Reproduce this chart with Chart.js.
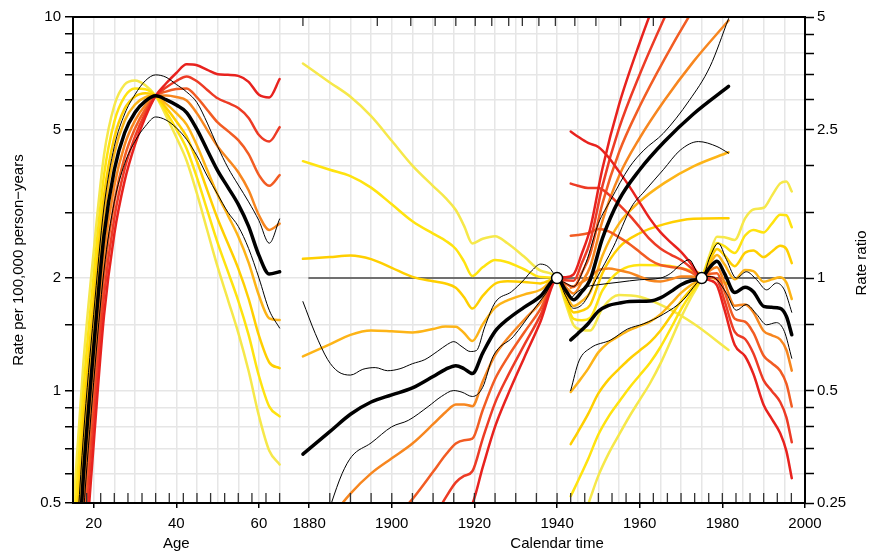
<!DOCTYPE html>
<html>
<head>
<meta charset="utf-8">
<script src="https://cdn.jsdelivr.net/npm/chart.js@4.4.1/dist/chart.umd.min.js"></script>
<style>
  html, body { margin: 0; padding: 0; background: #fff; }
  #wrap { width: 871px; height: 555px; }
</style>
</head>
<body>
<div id="wrap"><canvas id="grafico" width="871" height="555"></canvas></div>
<script>
// age part of the x axis sits left of the calendar part
const AGE_OFFSET = 1807.86;

// ---- age effects (rate per 100,000) ----
const ages = [15, 17.5, 20, 22.5, 25, 27.5, 30, 32.5, 35, 37.5, 40, 42.5, 45, 47.5, 50, 52.5, 55, 57.5, 60, 62.5, 65];
const ageMid = [0.21, 0.59, 1.30, 2.6, 3.9, 4.9, 5.55, 5.95, 6.15, 6.01, 5.81, 5.55, 5.0, 4.4, 3.88, 3.5, 3.15, 2.75, 2.3, 2.05, 2.08];
const ageHi = [0.28, 0.75, 1.6, 3.1, 4.5, 5.5, 6.2, 6.75, 7.0, 6.9, 6.6, 6.3, 5.9, 5.2, 4.5, 3.95, 3.55, 3.2, 2.85, 2.48, 2.88];
const ageLo = [0.16, 0.46, 1.05, 2.1, 3.2, 4.05, 4.65, 5.1, 5.4, 5.3, 5.05, 4.7, 4.25, 3.75, 3.35, 3.0, 2.75, 2.4, 2.0, 1.64, 1.47];
const ageUp4 = [0.095, 0.295, 0.718, 1.585, 2.625, 3.641, 4.553, 5.389, 6.15, 6.636, 7.082, 7.47, 7.43, 7.219, 7.028, 7.0, 6.955, 6.706, 6.19, 6.093, 6.824];
const ageUp3 = [0.116, 0.351, 0.833, 1.794, 2.898, 3.921, 4.784, 5.524, 6.15, 6.473, 6.74, 6.935, 6.73, 6.378, 6.058, 5.886, 5.706, 5.366, 4.833, 4.641, 5.071];
const ageUp2 = [0.141, 0.417, 0.966, 2.03, 3.199, 4.224, 5.027, 5.662, 6.15, 6.315, 6.415, 6.439, 6.095, 5.636, 5.222, 4.95, 4.681, 4.294, 3.773, 3.534, 3.773];
const ageUp1 = [0.172, 0.496, 1.121, 2.297, 3.532, 4.549, 5.282, 5.804, 6.15, 6.161, 6.105, 5.978, 5.521, 4.98, 4.501, 4.162, 3.84, 3.436, 2.946, 2.692, 2.799];
const ageDn1 = [0.256, 0.702, 1.508, 2.943, 4.306, 5.278, 5.831, 6.099, 6.15, 5.863, 5.53, 5.153, 4.529, 3.888, 3.345, 2.943, 2.584, 2.201, 1.796, 1.561, 1.545];
const ageDn2 = [0.312, 0.834, 1.75, 3.33, 4.754, 5.684, 6.128, 6.252, 6.15, 5.719, 5.262, 4.784, 4.102, 3.435, 2.883, 2.475, 2.12, 1.761, 1.402, 1.189, 1.148];
const ageDn3 = [0.38, 0.992, 2.03, 3.769, 5.249, 6.123, 6.439, 6.409, 6.15, 5.58, 5.008, 4.441, 3.715, 3.035, 2.485, 2.081, 1.739, 1.409, 1.094, 0.906, 0.853];
const ageDn4 = [0.464, 1.18, 2.355, 4.266, 5.795, 6.595, 6.765, 6.569, 6.15, 5.443, 4.766, 4.124, 3.365, 2.682, 2.142, 1.75, 1.427, 1.128, 0.855, 0.69, 0.634];

// ---- cohort effects (rate ratio, ref 1940) ----
const cohorts = [1878.5, 1885, 1890, 1895, 1900, 1905, 1910, 1913, 1915.5, 1917.5, 1919.5, 1922, 1925, 1928, 1932, 1936, 1940, 1942, 1944, 1946, 1948, 1951, 1955, 1960, 1966, 1973, 1981.5];
const cohMid = [0.338, 0.388, 0.432, 0.466, 0.487, 0.508, 0.545, 0.57, 0.583, 0.572, 0.555, 0.63, 0.72, 0.775, 0.835, 0.895, 1, 0.93, 0.875, 0.92, 0.99, 1.28, 1.62, 1.95, 2.32, 2.75, 3.26];
const cohUp4 = [0.0304, 0.0451, 0.061, 0.0801, 0.1017, 0.1291, 0.1684, 0.1981, 0.2234, 0.2371, 0.2488, 0.3114, 0.4002, 0.4845, 0.6105, 0.7653, 1, 1.0057, 1.0233, 1.1635, 1.354, 1.9689, 2.9142, 4.2662, 6.419, 10.008, 16.55];
const cohUp3 = [0.0556, 0.0772, 0.0995, 0.1243, 0.1505, 0.1818, 0.2259, 0.258, 0.284, 0.2955, 0.304, 0.3714, 0.4635, 0.5449, 0.6602, 0.7958, 1, 0.9863, 0.984, 1.0972, 1.2521, 1.7678, 2.5163, 3.5079, 4.977, 7.245, 11.02];
const cohUp2 = [0.1014, 0.1322, 0.1624, 0.1931, 0.2226, 0.2561, 0.303, 0.336, 0.3609, 0.3682, 0.3716, 0.4429, 0.5368, 0.6128, 0.714, 0.8276, 1, 0.9671, 0.9462, 1.0346, 1.1578, 1.5871, 2.1729, 2.8842, 3.859, 5.246, 7.345];
const cohUp1 = [0.185, 0.2265, 0.2648, 0.3, 0.3293, 0.3607, 0.4063, 0.4376, 0.4587, 0.459, 0.4541, 0.5283, 0.6217, 0.6891, 0.7722, 0.8607, 1, 0.9484, 0.9099, 0.9757, 1.0706, 1.4253, 1.8763, 2.3716, 2.992, 3.798, 4.893];
const cohDn1 = [0.617, 0.6646, 0.7047, 0.7238, 0.7203, 0.7155, 0.731, 0.7424, 0.7409, 0.7129, 0.6783, 0.7513, 0.8339, 0.8716, 0.903, 0.9307, 1, 0.9119, 0.8414, 0.8675, 0.9155, 1.1495, 1.3987, 1.6034, 1.7989, 1.9912, 2.1719];
const cohDn2 = [1.126, 1.1385, 1.1494, 1.1244, 1.0655, 1.0077, 0.9804, 0.9669, 0.9417, 0.8885, 0.829, 0.8961, 0.9657, 0.9802, 0.9765, 0.9679, 1, 0.8943, 0.8091, 0.8181, 0.8465, 1.0323, 1.2078, 1.3184, 1.3947, 1.4415, 1.447];
const cohDn3 = [2.056, 1.95, 1.8749, 1.7464, 1.5759, 1.4194, 1.315, 1.2593, 1.1968, 1.1074, 1.0132, 1.0687, 1.1184, 1.1023, 1.056, 1.0065, 1, 0.877, 0.7781, 0.7714, 0.7828, 0.9268, 1.0429, 1.084, 1.0814, 1.0438, 0.964];
const cohDn4 = [3.753, 3.341, 3.0583, 2.7126, 2.3309, 1.9992, 1.7636, 1.6401, 1.5212, 1.3801, 1.2383, 1.2745, 1.2952, 1.2397, 1.142, 1.0467, 1, 0.86, 0.7482, 0.7274, 0.7238, 0.8321, 0.9006, 0.8913, 0.8385, 0.7557, 0.6422];
const cohHiYears = [1878.5, 1881.5, 1884.5, 1887, 1890, 1893, 1896, 1899, 1902, 1905, 1908, 1911, 1913.5, 1915, 1917, 1919, 1920.5, 1922.5, 1925, 1929, 1932, 1934, 1936, 1938, 1940, 1942, 1944, 1947, 1950, 1953, 1957.5, 1961, 1965.7, 1972, 1977, 1981.5];
const cohHi = [0.865, 0.71, 0.605, 0.562, 0.55, 0.57, 0.576, 0.565, 0.572, 0.59, 0.605, 0.636, 0.665, 0.676, 0.655, 0.636, 0.64, 0.74, 0.86, 0.92, 0.99, 1.05, 1.09, 1.07, 1.0, 0.97, 0.95, 1.1, 1.4, 1.62, 1.98, 2.2, 2.44, 2.99, 3.68, 4.95];
const cohLoYears = [1878.5, 1882, 1885.4, 1888, 1890.3, 1895, 1900, 1904, 1908.8, 1912, 1915, 1917, 1919.5, 1922, 1924.5, 1929.4, 1934.2, 1937, 1940, 1942, 1944, 1946.5, 1949.4, 1953.6, 1958, 1961, 1965.7, 1969.8, 1974.2, 1978.7, 1981.5];
const cohLo = [0.14, 0.19, 0.25, 0.3, 0.333, 0.362, 0.4, 0.416, 0.453, 0.482, 0.5, 0.495, 0.482, 0.51, 0.617, 0.697, 0.82, 0.9, 1.0, 0.9, 0.83, 0.86, 0.99, 1.21, 1.55, 1.7, 1.95, 2.2, 2.32, 2.25, 2.16];

// ---- period effects (rate ratio, ref 1975) ----
const periods = [1943.3, 1945, 1947.5, 1950, 1952.5, 1955, 1957.5, 1960, 1962.5, 1965, 1967.5, 1970, 1972.5, 1975, 1977, 1978.7, 1980.5, 1983, 1985.5, 1987.5, 1990, 1992, 1994, 1995.5, 1996.8];
const perMid = [0.683, 0.71, 0.755, 0.815, 0.845, 0.857, 0.866, 0.867, 0.868, 0.885, 0.92, 0.96, 0.985, 1, 1.07, 1.11, 1.03, 0.915, 0.945, 0.92, 0.84, 0.835, 0.83, 0.79, 0.705];
const perUp4 = [2.468, 2.3948, 2.3012, 2.2447, 2.1031, 1.9275, 1.7601, 1.5922, 1.4405, 1.3272, 1.2468, 1.1756, 1.09, 1, 0.9865, 0.9555, 0.8242, 0.6617, 0.6178, 0.5543, 0.4574, 0.4193, 0.3843, 0.3442, 0.2914];
const perUp3 = [1.79, 1.7671, 1.7416, 1.7425, 1.6744, 1.5739, 1.4741, 1.3678, 1.2692, 1.1994, 1.1555, 1.1175, 1.0628, 1, 1.0069, 0.992, 0.8714, 0.7175, 0.687, 0.6292, 0.5325, 0.4981, 0.4659, 0.4237, 0.3635];
const perUp2 = [1.2983, 1.3039, 1.3181, 1.3526, 1.3331, 1.2852, 1.2346, 1.175, 1.1182, 1.0838, 1.071, 1.0623, 1.0362, 1, 1.0275, 1.0299, 0.9214, 0.7781, 0.7641, 0.7142, 0.6198, 0.5917, 0.5648, 0.5215, 0.4533];
const perUp1 = [0.9417, 0.9622, 0.9976, 1.0499, 1.0613, 1.0495, 1.034, 1.0093, 0.9852, 0.9793, 0.9926, 1.0099, 1.0103, 1, 1.0485, 1.0692, 0.9742, 0.8438, 0.8497, 0.8106, 0.7216, 0.7029, 0.6848, 0.6418, 0.5653];
const perDn1 = [0.4954, 0.5239, 0.5714, 0.6327, 0.6728, 0.6998, 0.7253, 0.7448, 0.7648, 0.7997, 0.8527, 0.9125, 0.9603, 1, 1.0919, 1.1524, 1.089, 0.9922, 1.0509, 1.0442, 0.9778, 0.992, 1.006, 0.9724, 0.8792];
const perDn2 = [0.3593, 0.3866, 0.4325, 0.4911, 0.5356, 0.5714, 0.6075, 0.6398, 0.6738, 0.7227, 0.7903, 0.8675, 0.9363, 1, 1.1143, 1.1964, 1.1514, 1.076, 1.1688, 1.1851, 1.1384, 1.1784, 1.2198, 1.1968, 1.0965];
const perDn3 = [0.2606, 0.2853, 0.3273, 0.3812, 0.4264, 0.4666, 0.5088, 0.5496, 0.5936, 0.653, 0.7325, 0.8247, 0.9129, 1, 1.1371, 1.2421, 1.2175, 1.1668, 1.2998, 1.3452, 1.3252, 1.3997, 1.4787, 1.473, 1.3675];
const perDn4 = [0.189, 0.2105, 0.2477, 0.2959, 0.3395, 0.381, 0.4261, 0.4721, 0.523, 0.5901, 0.6789, 0.7839, 0.8901, 1, 1.1605, 1.2895, 1.2872, 1.2653, 1.4456, 1.5268, 1.5427, 1.663, 1.7926, 1.8131, 1.7055];
const perHiYears = [1943.3, 1945, 1947.5, 1950, 1955, 1960, 1965, 1967.5, 1970, 1972, 1973.8, 1975, 1977, 1979, 1981, 1983.4, 1985.8, 1988.3, 1990.7, 1993.1, 1995, 1996.8];
const perHi = [0.88, 0.92, 0.95, 0.96, 0.975, 0.99, 1.0, 1.03, 1.09, 1.12, 1.04, 1.0, 1.14, 1.24, 1.12, 1.0, 1.04, 0.99, 0.93, 0.97, 0.93, 0.81];
const perLoYears = [1943.3, 1945.3, 1948.1, 1953, 1957, 1961, 1965.7, 1970.6, 1973.8, 1975, 1977, 1978.7, 1981, 1983.4, 1985.8, 1988.3, 1990.7, 1993.1, 1995, 1996.8];
const perLo = [0.5, 0.6, 0.65, 0.683, 0.73, 0.755, 0.8, 0.875, 0.97, 1.0, 1.01, 0.99, 0.91, 0.82, 0.85, 0.8, 0.75, 0.76, 0.72, 0.61];

// reference points (cohort 1940, period 1975)
const refYears = [1940, 1975];

// axes
const rateTicks = [0.5, 0.6, 0.7, 0.8, 0.9, 1, 1.5, 2, 3, 4, 5, 6, 7, 8, 9, 10];
const rateLabels = [0.5, 1, 2, 5, 10];
const ratioTicks = [0.25, 0.3, 0.35, 0.4, 0.45, 0.5, 0.75, 1, 1.5, 2, 2.5, 3, 3.5, 4, 4.5, 5];
const ratioLabels = [0.25, 0.5, 1, 2.5, 5];
const ageGrid = [20, 25, 30, 35, 40, 45, 50, 55, 60, 65];
const ageLabels = [20, 40, 60];
const calGrid = [1880, 1885, 1890, 1895, 1900, 1905, 1910, 1915, 1920, 1925, 1930, 1935, 1940, 1945, 1950, 1955, 1960, 1965, 1970, 1975, 1980, 1985, 1990, 1995, 2000];
const calLabels = [1880, 1900, 1920, 1940, 1960, 1980, 2000];

// small inner tick marks (knots) along the frame
const ageRug = [15, 18.3, 21.7, 25, 28.3, 31.7, 35, 38.3, 41.7, 45, 48.3, 51.7, 55, 58.3, 61.7, 65];
const calRugBottom = [1885, 1890, 1895, 1900, 1905, 1910, 1915, 1920, 1925, 1930, 1935, 1940,
  1943.3, 1946.7, 1950, 1953.3, 1956.7, 1960, 1963.3, 1966.7, 1970, 1973.3, 1976.7, 1980, 1983.3, 1986.7, 1990, 1993.3, 1996.7];
const calRugTop = [1878.5, 1896.5, 1904.6, 1910.5, 1915.5, 1920.2, 1924.2, 1928.3, 1931.6, 1935.6, 1939.6, 1944.3, 1949.4, 1955.4, 1963.3];

const colores = ["#E8221E", "#ED3B25", "#F25C23", "#F7861F", "#FDB417", "#FFCF00", "#FFE30F", "#F6E84A"];
const FUENTE = "'Liberation Sans', Arial, sans-serif";

function serie(xs, ys, color, ancho, eje, orden, shift) {
  return {
    data: xs.map((x, i) => ({ x: x + (shift || 0), y: ys[i] })),
    borderColor: color,
    borderWidth: ancho,
    yAxisID: eje,
    order: orden,
    pointRadius: 0,
    fill: false,
    cubicInterpolationMode: "monotone",
    borderCapStyle: "round",
    borderJoinStyle: "round",
  };
}

function etiquetaX(v) {
  if (v < 1875) {
    const a = Math.round((v - AGE_OFFSET) * 100) / 100;
    return ageLabels.includes(a) ? String(a) : "";
  }
  const c = Math.round(v);
  return calLabels.includes(c) ? String(c) : "";
}

const datasets = [];
const ageSets = [ageUp4, ageUp3, ageUp2, ageUp1, ageDn1, ageDn2, ageDn3, ageDn4];
const cohSets = [cohUp4, cohUp3, cohUp2, cohUp1, cohDn1, cohDn2, cohDn3, cohDn4];
const perSets = [perUp4, perUp3, perUp2, perUp1, perDn1, perDn2, perDn3, perDn4];
ageSets.forEach((s, i) => datasets.push(serie(ages, s, colores[i], 2.5, "y", 10 + i, AGE_OFFSET)));
cohSets.forEach((s, i) => datasets.push(serie(cohorts, s, colores[i], 2.5, "y2", 10 + i)));
perSets.forEach((s, i) => datasets.push(serie(periods, s, colores[i], 2.5, "y2", 10 + i)));

datasets.push(serie(ages, ageHi, "#000", 1, "y", 3, AGE_OFFSET));
datasets.push(serie(ages, ageLo, "#000", 1, "y", 3, AGE_OFFSET));
datasets.push(serie(cohHiYears, cohHi, "#000", 1, "y2", 3));
datasets.push(serie(cohLoYears, cohLo, "#000", 1, "y2", 3));
datasets.push(serie(perHiYears, perHi, "#000", 1, "y2", 3));
datasets.push(serie(perLoYears, perLo, "#000", 1, "y2", 3));

datasets.push(serie(ages, ageMid, "#000", 3.5, "y", 2, AGE_OFFSET));
datasets.push(serie(cohorts, cohMid, "#000", 3.5, "y2", 2));
datasets.push(serie(periods, perMid, "#000", 3.5, "y2", 2));

// horizontal line at rate ratio 1
datasets.push(serie([1880, 2000], [1, 1], "#707070", 2, "y2", 50));

datasets.push({
  data: refYears.map((x) => ({ x: x, y: 1 })),
  yAxisID: "y2",
  order: 0,
  showLine: false,
  pointRadius: 5.5,
  pointBackgroundColor: "#fff",
  pointBorderColor: "#000",
  pointBorderWidth: 1.5,
});

const marco = {
  id: "marco",
  afterDraw(chart) {
    const { ctx, chartArea: a, scales } = chart;
    const x = scales.x;
    ctx.save();
    // knot ticks
    ctx.strokeStyle = "#333";
    ctx.lineWidth = 1.3;
    ctx.beginPath();
    ageRug.forEach((v) => {
      const px = x.getPixelForValue(v + AGE_OFFSET);
      ctx.moveTo(px, a.bottom);
      ctx.lineTo(px, a.bottom - 10);
    });
    calRugBottom.forEach((v) => {
      const px = x.getPixelForValue(v);
      ctx.moveTo(px, a.bottom);
      ctx.lineTo(px, a.bottom - 10);
    });
    calRugTop.forEach((v) => {
      const px = x.getPixelForValue(v);
      ctx.moveTo(px, a.top);
      ctx.lineTo(px, a.top + 9);
    });
    ctx.stroke();

    // box
    ctx.strokeStyle = "#000";
    ctx.lineWidth = 2;
    ctx.strokeRect(a.left, a.top, a.right - a.left, a.bottom - a.top);

    // axis titles
    ctx.fillStyle = "#000";
    ctx.font = "15px " + FUENTE;
    ctx.textAlign = "center";
    ctx.textBaseline = "middle";
    ctx.fillText("Age", x.getPixelForValue(40 + AGE_OFFSET), 544);
    ctx.fillText("Calendar time", x.getPixelForValue(1940), 544);

    ctx.save();
    ctx.translate(18.5, (a.top + a.bottom) / 2);
    ctx.rotate(-Math.PI / 2);
    ctx.fillText("Rate per 100,000 person\u2212years", 0, 0);
    ctx.restore();

    ctx.save();
    ctx.translate(862, 263);
    ctx.rotate(-Math.PI / 2);
    ctx.fillText("Rate ratio", 0, 0);
    ctx.restore();

    ctx.restore();
  },
};

const ctx = document.getElementById("grafico").getContext("2d");
const grafico = new Chart(ctx, {
  type: "line",
  data: { datasets: datasets },
  options: {
    responsive: false,
    animation: false,
    events: [],
    devicePixelRatio: 1,
    layout: { autoPadding: false, padding: { top: 17, left: 0, right: 0, bottom: 0 } },
    plugins: {
      legend: { display: false },
      tooltip: { enabled: false },
    },
    scales: {
      x: {
        type: "linear",
        min: 15 + AGE_OFFSET,
        max: 2000,
        afterBuildTicks: (scale) => {
          const vals = ageGrid.map((a) => a + AGE_OFFSET).concat(calGrid);
          scale.ticks = vals.map((v) => ({ value: v }));
        },
        afterFit: (scale) => {
          scale.height = 52;
        },
        border: { display: false },
        grid: {
          color: (c) => (c.tick && c.tick.value < 1999 ? "#E6E6E6" : "rgba(0,0,0,0)"),
          lineWidth: 1.5,
          tickLength: 5,
          tickWidth: 1.5,
          tickColor: (c) => (c.tick && etiquetaX(c.tick.value) ? "#000" : "rgba(0,0,0,0)"),
        },
        ticks: {
          autoSkip: false,
          maxRotation: 0,
          padding: 7,
          color: "#000",
          font: { family: FUENTE, size: 15 },
          callback: (v) => etiquetaX(v),
        },
      },
      y: {
        type: "logarithmic",
        position: "left",
        min: 0.5,
        max: 10,
        afterBuildTicks: (scale) => {
          scale.ticks = rateTicks.map((v) => ({ value: v }));
        },
        afterFit: (scale) => {
          scale.width = 73;
        },
        border: { display: false },
        grid: {
          color: "#E6E6E6",
          lineWidth: 1.5,
          tickLength: 8,
          tickWidth: 1.5,
          tickColor: "#000",
        },
        ticks: {
          padding: 4,
          color: "#000",
          font: { family: FUENTE, size: 15 },
          callback: (v) => (rateLabels.includes(v) ? String(v) : ""),
        },
      },
      y2: {
        type: "logarithmic",
        position: "right",
        min: 0.25,
        max: 5,
        afterBuildTicks: (scale) => {
          scale.ticks = ratioTicks.map((v) => ({ value: v }));
        },
        afterFit: (scale) => {
          scale.width = 66;
        },
        border: { display: false },
        grid: {
          drawOnChartArea: false,
          tickLength: 9,
          tickWidth: 1.5,
          tickColor: "#000",
        },
        ticks: {
          padding: 3,
          color: "#000",
          font: { family: FUENTE, size: 15 },
          callback: (v) => (ratioLabels.includes(v) ? String(v) : ""),
        },
      },
    },
  },
  plugins: [marco],
});
</script>
</body>
</html>
